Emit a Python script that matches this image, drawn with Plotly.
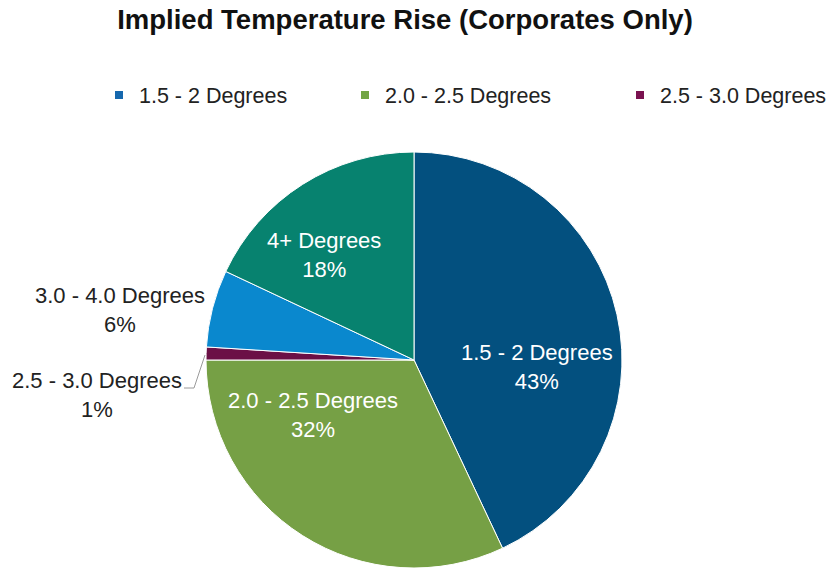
import plotly.graph_objects as go

labels = ["1.5 - 2 Degrees", "2.0 - 2.5 Degrees", "2.5 - 3.0 Degrees", "3.0 - 4.0 Degrees", "4+ Degrees"]
values = [43, 32, 1, 6, 18]
colors = ["#03507F", "#76A045", "#6B1046", "#0A88CE", "#07826F"]
label_colors = ["white", "white", "#222222", "#222222", "white"]
# label anchor positions (pixels, from top-left) as placed in the reference
label_px = [(537, 367), (313, 415), (97, 395), (120, 310), (324, 255)]

legend_labels = ["1.5 - 2 Degrees", "2.0 - 2.5 Degrees", "2.5 - 3.0 Degrees"]
legend_colors = ["#1668AE", "#72A544", "#7A1250"]
legend_px = [99, 345, 620]

W, H = 833, 569
FONT = "Liberation Sans, Arial, sans-serif"
CX, CY, R = 414, 360, 208

fig = go.Figure()
fig.add_trace(go.Pie(
    labels=labels,
    values=values,
    sort=False,
    direction="clockwise",
    rotation=0,
    marker=dict(colors=colors, line=dict(color="white", width=1)),
    textinfo="none",
    showlegend=False,
    hoverinfo="label+percent",
    domain=dict(x=[(CX - R) / W, (CX + R) / W], y=[(H - CY - R) / H, (H - CY + R) / H]),
))

total = sum(values)
for lab, val, col, (px, py) in zip(labels, values, label_colors, label_px):
    fig.add_annotation(
        x=px / W, y=1 - py / H, xref="paper", yref="paper",
        xanchor="center", yanchor="middle",
        text=f"{lab}<br>{round(100 * val / total)}%",
        showarrow=False, align="center",
        font=dict(family=FONT, size=22, color=col),
    )

# leader line for the small 2.5 - 3.0 slice
fig.add_shape(type="path", xref="paper", yref="paper",
              path=f"M {184 / W},{1 - 388 / H} L {194 / W},{1 - 388 / H} L {205 / W},{1 - 355 / H}",
              line=dict(color="#9A9A9A", width=1))

legend_layouts = {}
for i, (lab, col, lx) in enumerate(zip(legend_labels, legend_colors, legend_px)):
    key = "legend" if i == 0 else f"legend{i + 1}"
    fig.add_trace(go.Scatter(
        x=[None], y=[None], mode="markers", name=lab, legend=key,
        marker=dict(symbol="square", size=8, color=col),
    ))
    legend_layouts[key] = dict(
        orientation="h", x=lx / W, xanchor="left", y=1 - 95 / H, yanchor="middle",
        font=dict(family=FONT, size=21.5, color="#222222"),
        itemwidth=30, bgcolor="rgba(0,0,0,0)",
    )

fig.update_layout(
    width=W, height=H,
    margin=dict(l=0, r=0, t=0, b=0, autoexpand=False),
    paper_bgcolor="white", plot_bgcolor="white",
    title=dict(text="<b>Implied Temperature Rise (Corporates Only)</b>",
               x=405 / W, xanchor="center", y=1 - 19 / H, yanchor="middle",
               font=dict(family=FONT, size=27.5, color="#111111")),
    xaxis=dict(visible=False), yaxis=dict(visible=False),
    **legend_layouts,
)

fig.write_html("out.html")
